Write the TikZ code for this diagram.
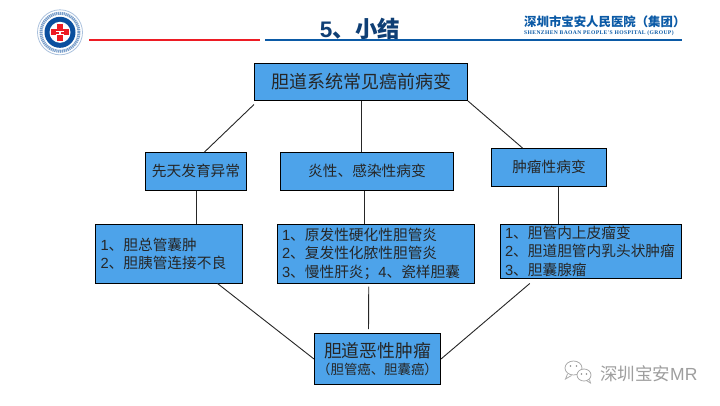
\documentclass[tikz,border=0pt]{standalone}
\usepackage{fontspec}
\setmainfont{Liberation Sans}
\newfontfamily\cjk{Noto Sans CJK SC}
\newfontfamily\enserif[LetterSpace=6.6]{Liberation Serif}
\usetikzlibrary{calc}
\definecolor{boxblue}{HTML}{4DA3EA}
\definecolor{titleblue}{HTML}{0F3F75}
\definecolor{hospblue}{HTML}{0B5AA6}
\definecolor{linered}{HTML}{ED1C24}
\definecolor{logoblue}{HTML}{0B4F9E}
\newcommand{\fs}[1]{\fontsize{#1}{#1}\selectfont}
\tikzset{
 every node/.style={font=\cjk},
 boxnode/.style={draw=black,line width=1pt,fill=boxblue,anchor=north west,inner sep=0pt,text=black!85},
 listbox/.style={boxnode,align=left,font=\cjk\fontsize{14.7}{18.4}\selectfont},
 midbox/.style={boxnode,align=center,font=\cjk\fs{14.7}},
 link/.style={draw=black!85,line width=0.9pt},
 wm/.style={text=black!38,anchor=west},
}
\begin{document}
\begin{tikzpicture}[x=1pt,y=-1pt]
\useasboundingbox (0,0) rectangle (720,405);
\fill[white] (0,0) rectangle (720,405);
% header
\fill[linered] (89,39) rectangle (259.5,41);
\fill[hospblue] (265,39) rectangle (682,41);
\node[anchor=center,text=titleblue,font=\cjk\bfseries\fs{22.5}] (title) at (360,29) {\fontspec{Liberation Sans}\textbf{5}\cjk、小结};
\node[anchor=west,text=hospblue,inner sep=0pt,font=\cjk\bfseries\fs{12.4}] (hosp) at (524,22) {深圳市宝安人民医院（集团）};
\node[anchor=west,text=hospblue,inner sep=0pt,font=\enserif\bfseries\fs{5.6}] (hospen) at (524,33) {SHENZHEN BAOAN  PEOPLE'S HOSPITAL (GROUP)};
% logo
\fill[white] (60,32.3) circle (22.7);
\draw[logoblue!35,line width=0.8pt] (60,32.3) circle (22.5);
\draw[logoblue!55,line width=3pt,dash pattern=on 1.2pt off 0.7pt] (60,32.3) circle (19);
\fill[logoblue] (60,32.3) circle (15.5);
\fill[white] (60,32.3) circle (10.5);
\fill[linered] (57,23.5) rectangle (63,41.2);
\fill[linered] (51,29.3) rectangle (69,35.3);
\fill[white] (56,30.6) rectangle (64,31.8);
\fill[white] (56,34) rectangle (64,35.3);
\fill[white] (59,32) rectangle (61,34);
% boxes
\node[midbox,minimum width=213,minimum height=37,font=\cjk\fs{18}] (top) at (254,63) {胆道系统常见癌前病变};
\node[midbox,minimum width=101,minimum height=37.5] (xt) at (145,152) {先天发育异常};
\node[midbox,minimum width=173,minimum height=37.5] (yx) at (280,152) {炎性、感染性病变};
\node[midbox,minimum width=115,minimum height=37.5] (zl) at (491,148) {肿瘤性病变};
\node[listbox,minimum height=58.5,text width=136,inner xsep=5.5pt] (b1) at (94.5,224) {\fontspec{Liberation Sans}1\cjk、胆总管囊肿\\\fontspec{Liberation Sans}2\cjk、胆胰管连接不良};
\node[listbox,minimum height=58.5,text width=187.5,inner xsep=5pt] (b2) at (276.5,224) {\fontspec{Liberation Sans}1\cjk、原发性硬化性胆管炎\\\fontspec{Liberation Sans}2\cjk、复发性化脓性胆管炎\\\fontspec{Liberation Sans}3\cjk、慢性肝炎；\fontspec{Liberation Sans}4\cjk、瓷样胆囊};
\node[listbox,minimum height=53.5,text width=171.5,inner xsep=5pt] (b3) at (499.5,224) {\fontspec{Liberation Sans}1\cjk、胆管内上皮瘤变\\\fontspec{Liberation Sans}2\cjk、胆道胆管内乳头状肿瘤\\\fontspec{Liberation Sans}3\cjk、胆囊腺瘤};
\node[boxnode,minimum width=126,minimum height=51,align=center] (bt) at (314,333) {{\cjk\fontsize{17.8}{20}\selectfont 胆道恶性肿瘤}\\[2.5pt]{\cjk\fontsize{13.4}{16}\selectfont （胆管癌、胆囊癌）}};
% connectors
\draw[link] ($(top.south west)+(0,3.5)$) -- ($(xt.north)+(8.5,0)$);
\draw[link] (top.south -| 361,0) -- (yx.north -| 361,0);
\draw[link] (top.south east) -- ($(zl.north)+(-26.5,0)$);
\draw[link] (xt.south) -- (b1.north -| xt.south);
\draw[link] (yx.south -| 364.7,0) -- (b2.north -| 364.7,0);
\draw[link] (zl.south -| 558,0) -- (b3.north -| 558,0);
\draw[link] ($(b1.south)+(49,0)$) -- (bt.west);
\draw[link,shorten >=4pt,shorten <=3pt] ($(b2.south)+(-7,0)$) -- ($(bt.north)+(-9,0)$);
\coordinate (b3end) at ($(b3.south)+(-61,5)$);
\draw[link] (b3end) -- (bt.east);
% watermark
\begin{scope}[draw=black!33,line width=0.8pt]
\draw[fill=white] (573.5,368) ellipse (8.5 and 7);
\draw[fill=white] (584,375) ellipse (7 and 6);
\draw (567.5,374) -- (565.5,379) -- (571.5,375.5);
\draw (586.5,380.5) -- (590.5,383) -- (589.5,379.5);
\fill[black!45] (570.5,366) circle (0.9) (576.5,366) circle (0.9) (581.5,374) circle (0.8) (586.5,374) circle (0.8);
\end{scope}
\node[wm,inner sep=0pt,font=\cjk\fs{17.5}] (wmt) at (600,373.5) {深圳宝安\fontspec{Liberation Sans}MR};
\end{tikzpicture}
\end{document}
